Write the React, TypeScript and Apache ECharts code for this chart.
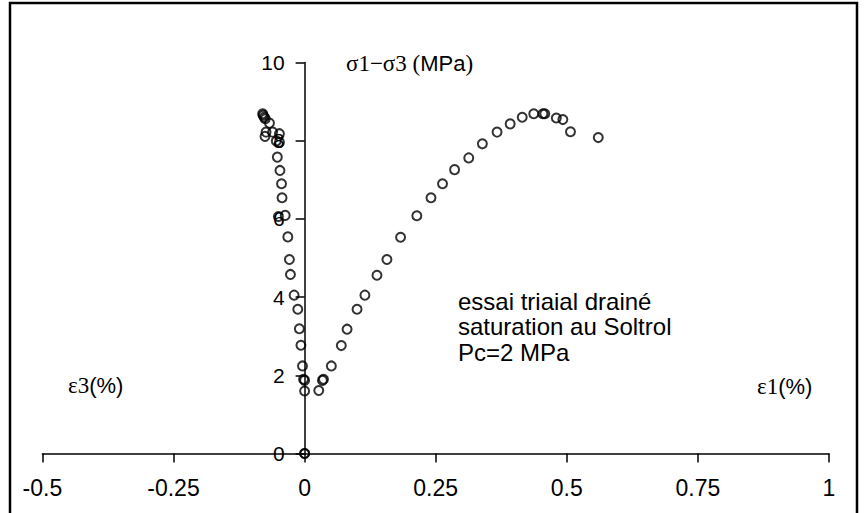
import React, { useEffect, useRef } from "react";
import * as echarts from "echarts";

// Axial branch (ε1, %) and its deviatoric stress (σ1−σ3, MPa)
const eps1 = [0, 0.027, 0.034, 0.036, 0.051, 0.07, 0.081, 0.1, 0.115, 0.138, 0.157, 0.183, 0.214, 0.241, 0.263, 0.286, 0.313, 0.339, 0.367, 0.392, 0.415, 0.437, 0.4545, 0.458, 0.48, 0.4925, 0.507, 0.56];
const q1 = [0, 1.61, 1.87, 1.9, 2.24, 2.76, 3.18, 3.69, 4.05, 4.56, 4.96, 5.53, 6.08, 6.54, 6.9, 7.26, 7.56, 7.92, 8.22, 8.43, 8.6, 8.69, 8.69, 8.69, 8.58, 8.54, 8.23, 8.08];

// Radial branch (ε3, %) and its deviatoric stress
const eps3 = [0, 0, 0, -0.002, -0.004, -0.007, -0.01, -0.013, -0.02, -0.027, -0.029, -0.032, -0.037, -0.05, -0.043, -0.044, -0.047, -0.052, -0.048, -0.054, -0.048, -0.061, -0.0755, -0.0735, -0.067, -0.075, -0.077, -0.079, -0.08];
const q3 = [0, 1.6, 1.87, 1.9, 2.24, 2.77, 3.19, 3.69, 4.05, 4.58, 4.96, 5.54, 6.09, 6.06, 6.54, 6.9, 7.24, 7.58, 7.96, 7.99, 8.18, 8.22, 8.11, 8.22, 8.45, 8.56, 8.6, 8.65, 8.69];

const xTicks = [-0.5, -0.25, 0, 0.25, 0.5, 0.75, 1];
const xTickLabels = ["-0.5", "-0.25", "0", "0.25", "0.5", "0.75", "1"];
const yTickLabels = ["0", "2", "4", "6", "8", "10"];

const annotationLines = ["essai triaial drainé", "saturation au Soltrol", "Pc=2 MPa"];

const SANS = "'Liberation Sans', Arial, sans-serif";
const SERIF = "'Liberation Serif', 'Times New Roman', serif";

const GRID_LEFT = 42.4;
const GRID_RIGHT = 35;
const X_MIN = -0.5;
const X_MAX = 1;

export default function App() {
  const ref = useRef<HTMLDivElement>(null);

  useEffect(() => {
    if (!ref.current) return;
    const chart = echarts.init(ref.current, undefined, { renderer: "svg" });

    const pts1 = eps1.map((x, i) => [x, q1[i]]);
    const pts3 = eps3.map((x, i) => [x, q3[i]]);

    // the y axis crosses the x axis at ε = 0: shift it inward from the grid's left edge
    const plotWidth = 864 - GRID_LEFT - GRID_RIGHT;
    const yAxisShift = ((0 - X_MIN) / (X_MAX - X_MIN)) * plotWidth;

    const symbolStyle = {
      color: "rgba(255,255,255,0)",
      borderColor: "#000",
      borderWidth: 2,
    };

    chart.setOption({
      animation: false,
      backgroundColor: "#fff",
      grid: { left: GRID_LEFT, right: GRID_RIGHT, top: 62.5, bottom: 59.5, containLabel: false },
      xAxis: {
        type: "value",
        min: X_MIN,
        max: X_MAX,
        interval: 0.25,
        splitLine: { show: false },
        axisLine: { onZero: true, lineStyle: { color: "#000", width: 1.5 } },
        axisTick: { show: true, inside: false, length: 9, lineStyle: { color: "#000", width: 1.5 } },
        axisLabel: {
          color: "#000",
          fontFamily: SANS,
          fontSize: 23,
          margin: 23,
          formatter: (v: number) => {
            const idx = xTicks.findIndex((t) => Math.abs(t - v) < 1e-9);
            return idx >= 0 ? xTickLabels[idx] : "";
          },
        },
      },
      yAxis: {
        type: "value",
        position: "left",
        offset: -yAxisShift,
        min: 0,
        max: 10,
        interval: 2,
        splitLine: { show: false },
        axisLine: { onZero: false, lineStyle: { color: "#000", width: 1.5 } },
        axisTick: { show: true, inside: false, length: 9, lineStyle: { color: "#000", width: 1.5 } },
        axisLabel: {
          color: "#000",
          fontFamily: SANS,
          fontSize: 21,
          margin: 20,
          formatter: (v: number) => yTickLabels[Math.round(v / 2)] ?? "",
        },
      },
      series: [
        {
          type: "scatter",
          name: "ε1",
          data: pts1,
          symbol: "circle",
          symbolSize: 9,
          itemStyle: symbolStyle,
        },
        {
          type: "scatter",
          name: "ε3",
          data: pts3,
          symbol: "circle",
          symbolSize: 9,
          itemStyle: symbolStyle,
        },
      ],
      graphic: [
        {
          type: "rect",
          silent: true,
          shape: { x: 10, y: 3, width: 847, height: 540 },
          style: { fill: "none", stroke: "#000", lineWidth: 2.5 },
        },
        {
          type: "text",
          x: 346,
          y: 63,
          style: {
            text: "{s|σ1−σ3 (}{a|MPa}{s|)}",
            verticalAlign: "middle",
            align: "left",
            fill: "#000",
            rich: {
              s: { fontFamily: SERIF, fontSize: 23, fill: "#000" },
              a: { fontFamily: SANS, fontSize: 22, fill: "#000" },
            },
          },
        },
        {
          type: "text",
          x: 68,
          y: 385,
          style: {
            text: "{s|ε3}{a|(%)}",
            verticalAlign: "middle",
            align: "left",
            fill: "#000",
            rich: {
              s: { fontFamily: SERIF, fontSize: 23, fill: "#000" },
              a: { fontFamily: SANS, fontSize: 22, fill: "#000" },
            },
          },
        },
        {
          type: "text",
          x: 757,
          y: 386,
          style: {
            text: "{s|ε1}{a|(%)}",
            verticalAlign: "middle",
            align: "left",
            fill: "#000",
            rich: {
              s: { fontFamily: SERIF, fontSize: 23, fill: "#000" },
              a: { fontFamily: SANS, fontSize: 22, fill: "#000" },
            },
          },
        },
        ...annotationLines.map((line, i) => ({
          type: "text",
          x: 458,
          y: 301 + i * 25.5,
          style: {
            text: line,
            fontFamily: SANS,
            fontSize: 24,
            fill: "#000",
            align: "left",
            verticalAlign: "middle",
          },
        })),
      ],
    });

    return () => chart.dispose();
  }, []);

  return (
    <div
      ref={ref}
      style={{ position: "absolute", left: 0, top: 0, width: 864, height: 513 }}
    />
  );
}
